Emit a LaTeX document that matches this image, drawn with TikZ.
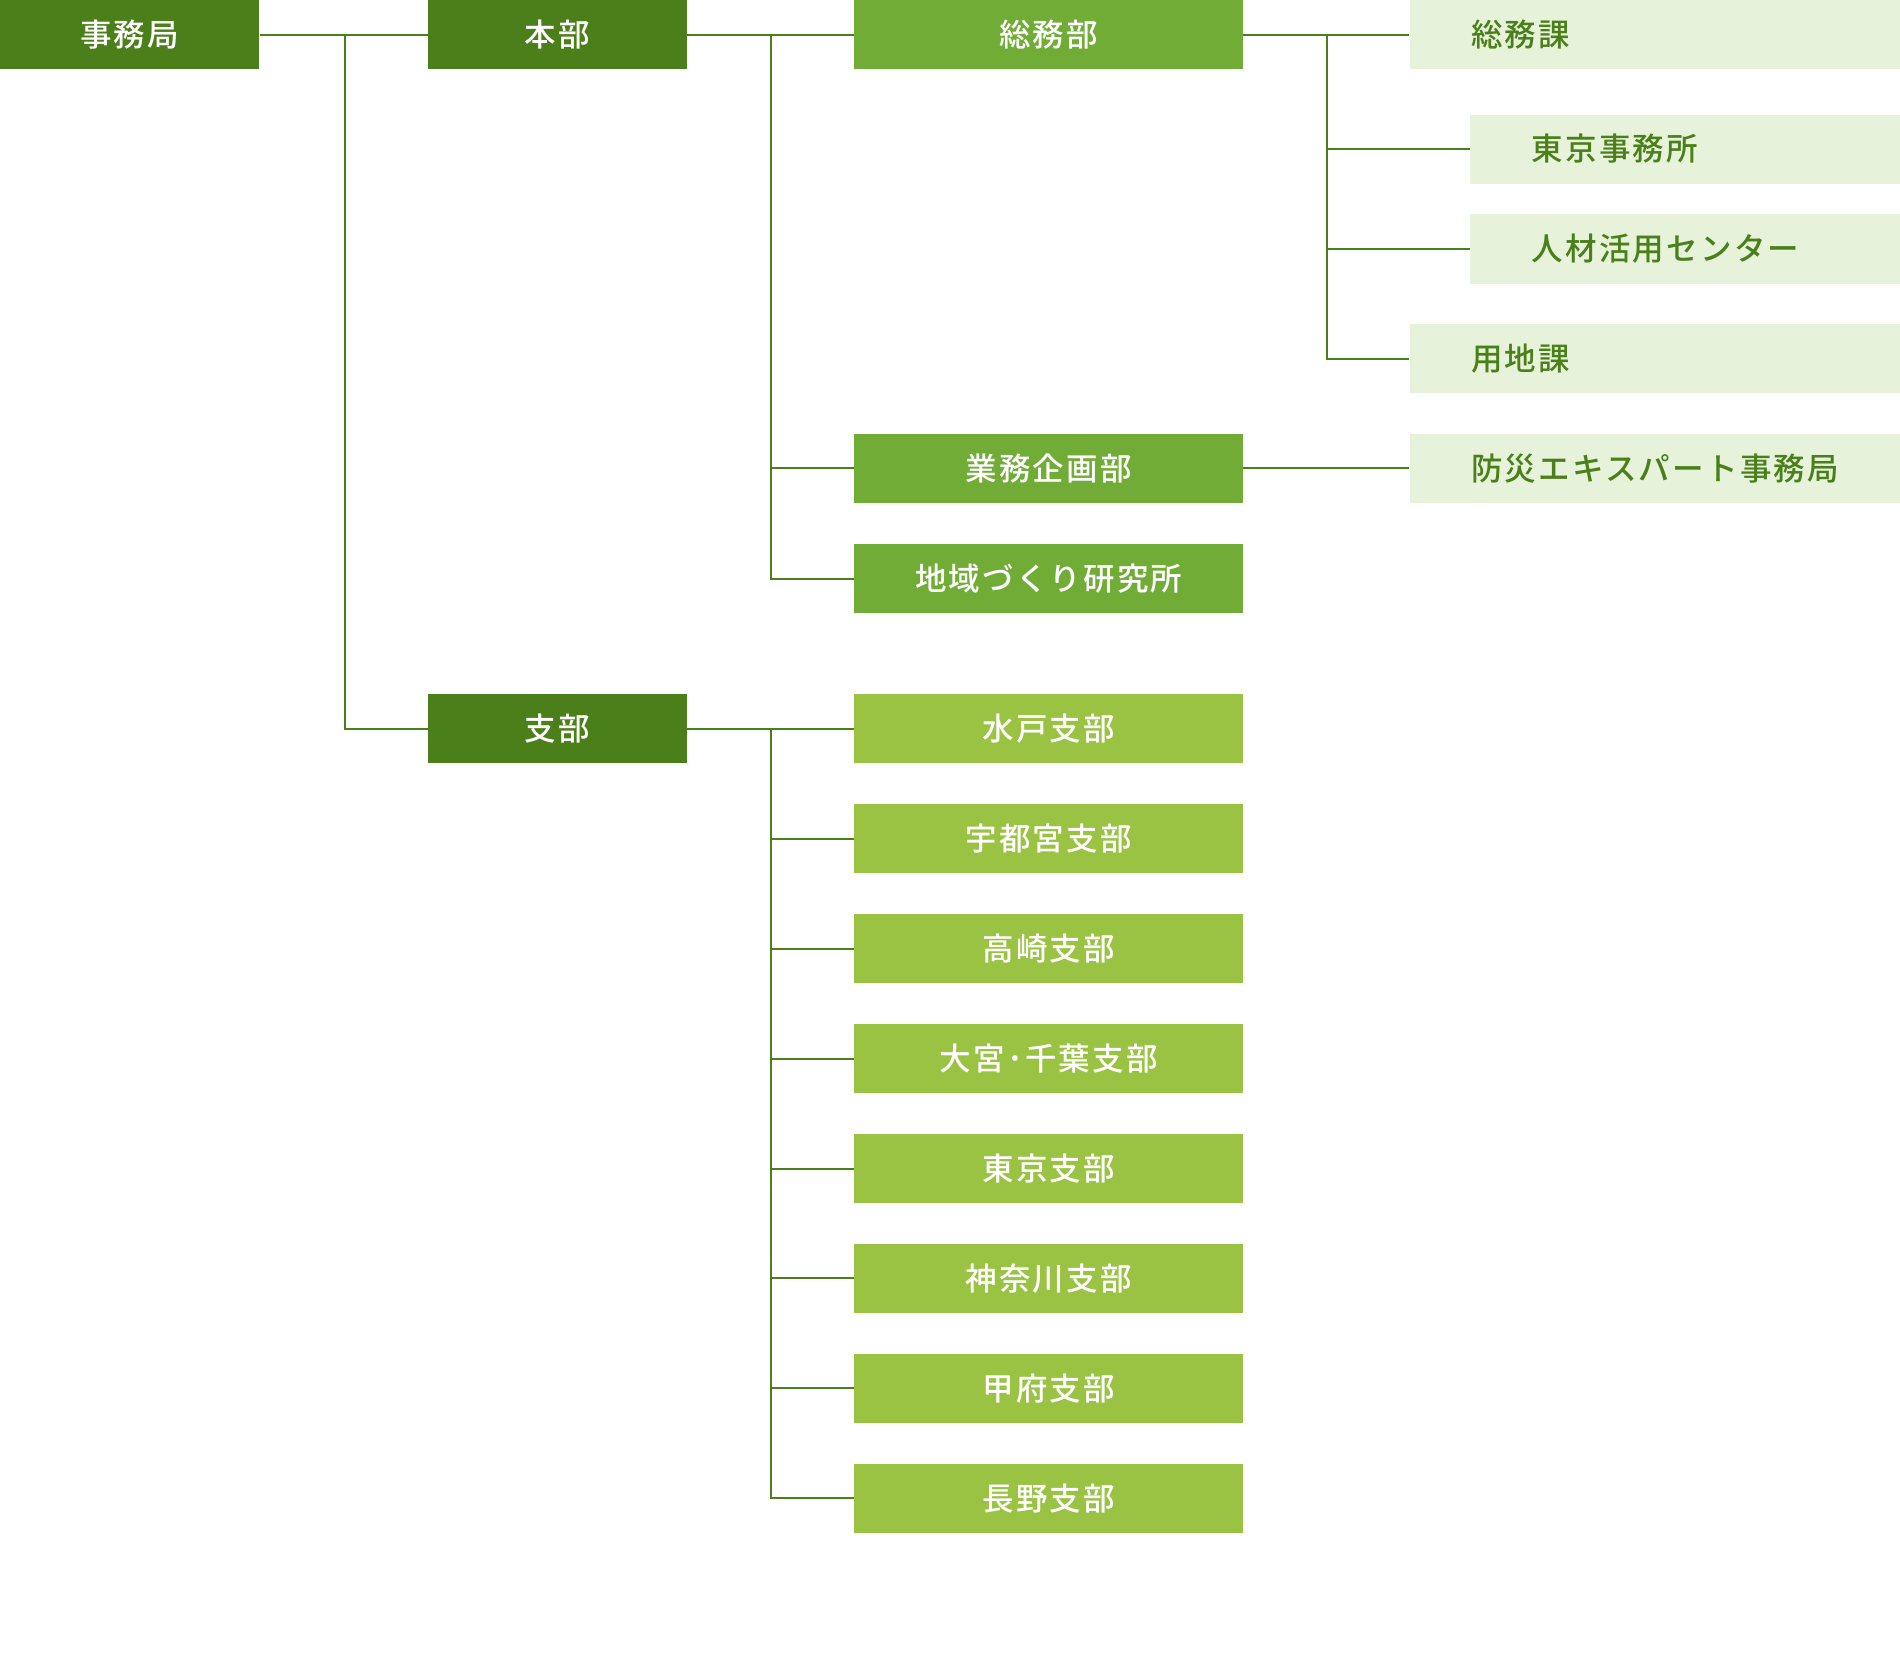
\documentclass[tikz,border=0pt]{standalone}
\usepackage{fontspec}
\newfontfamily\orgFont{Noto Sans CJK JP}[LetterSpace=7, BoldFont={Noto Sans CJK JP Medium}]
\definecolor{darkGreen}{HTML}{4B7F19}
\definecolor{midGreen}{HTML}{71AC37}
\definecolor{leafGreen}{HTML}{9AC343}
\definecolor{paleGreen}{HTML}{E6F2DA}
\begin{document}
\begin{tikzpicture}[x=1pt,y=-1pt,
    orgBox/.style={minimum height=57pt, inner sep=0pt, text=white,
        font=\orgFont\bfseries\fontsize{26}{30}\selectfont},
    topBox/.style={orgBox, fill=darkGreen, minimum width=214pt},
    deptBox/.style={orgBox, fill=midGreen, minimum width=321pt},
    branchBox/.style={orgBox, fill=leafGreen, minimum width=321pt},
    secBox/.style={orgBox, fill=paleGreen, text=darkGreen, anchor=west,
        inner xsep=51pt, text width=#1-102pt, align=left},
    conn/.style={draw=darkGreen, line width=1.6pt}]
    \useasboundingbox (0,0) rectangle (1568,1363.4);
    % top levels
    \node[topBox] (jimu) at (107,28.5) {事務局};
    \node[topBox] (honbu) at (460,28.5) {本部};
    \node[topBox] (shibu) at (460,601.5) {支部};
    % departments
    \node[deptBox] (soumu) at (865.5,28.5) {総務部};
    \node[deptBox] (gyomu) at (865.5,386.5) {業務企画部};
    \node[deptBox] (chiiki) at (865.5,477.5) {地域づくり研究所};
    \foreach \brName [count=\i] in {水戸支部,宇都宮支部,高崎支部,大宮･千葉支部,東京支部,神奈川支部,甲府支部,長野支部}{
        \pgfmathsetmacro{\brY}{601.5+90.71*(\i-1)}
        \node[branchBox] (br\i) at (865.5,\brY) {\brName};
    }
    % sections
    \node[secBox=405pt] (ka1) at (1163,28.5) {総務課};
    \node[secBox=355pt] (ka2) at (1213,123) {東京事務所};
    \node[secBox=355pt] (ka3) at (1213,205.5) {人材活用センター};
    \node[secBox=405pt] (ka4) at (1163,296) {用地課};
    \node[secBox=405pt] (bosai) at (1163,386.5) {防災エキスパート事務局};
    % connectors
    \coordinate (busA) at (285,28.5);
    \coordinate (busB) at (636,28.5);
    \coordinate (busC) at (636,601.5);
    \coordinate (busD) at (1095,28.5);
    \draw[conn] (jimu.east) -- (honbu.west);
    \draw[conn] (busA) |- (shibu.west);
    \draw[conn] (honbu.east) -- (soumu.west);
    \draw[conn] (busB) |- (gyomu.west);
    \draw[conn] (busB) |- (chiiki.west);
    \draw[conn] (shibu.east) -- (br1.west);
    \foreach \i in {2,...,8}
        \draw[conn] (busC) |- (br\i.west);
    \draw[conn] (soumu.east) -- (ka1.west);
    \foreach \k in {2,3,4}
        \draw[conn] (busD) |- (ka\k.west);
    \draw[conn] (gyomu.east) -- (bosai.west);
\end{tikzpicture}
\end{document}
